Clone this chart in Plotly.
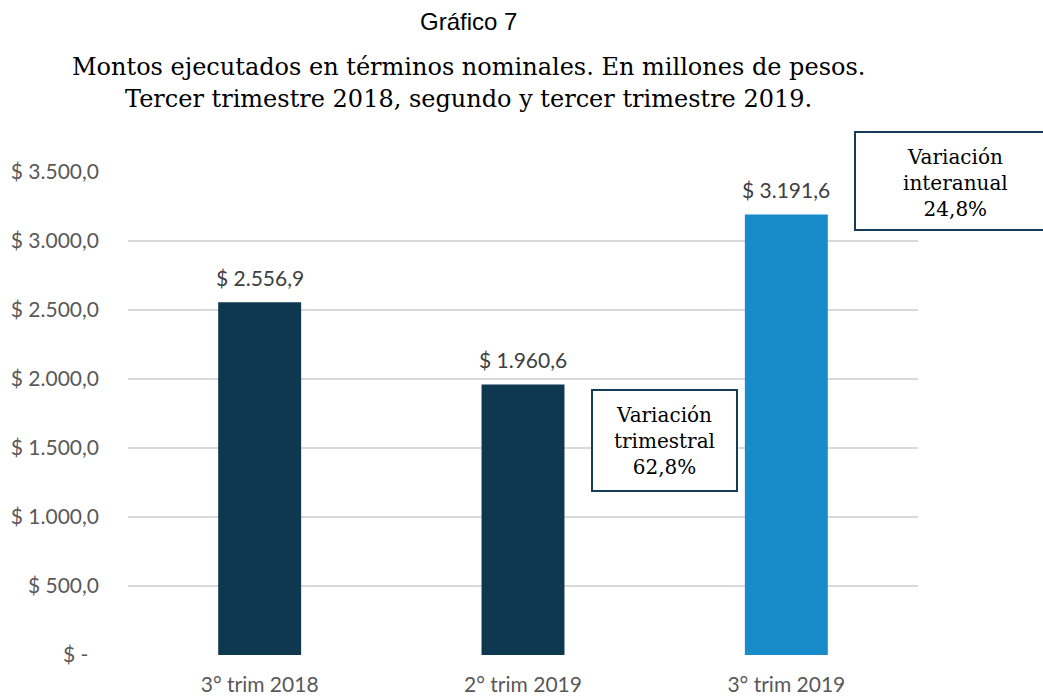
import plotly.graph_objects as go

categories = ["3° trim 2018", "2° trim 2019", "3° trim 2019"]
values = [2556.9, 1960.6, 3191.6]
bar_colors = ["#0d3850", "#0d3850", "#188bcb"]
tick_vals = [0, 500, 1000, 1500, 2000, 2500, 3000, 3500]

title_main = "Gráfico 7"
subtitle_lines = ["Montos ejecutados en términos nominales. En millones de pesos.",
                  "Tercer trimestre 2018, segundo y tercer trimestre 2019."]
box_trim = ["Variación", "trimestral", "62,8%"]
box_inter = ["Variación", "interanual", "24,8%"]


def fmt(v):
    s = f"{v:,.1f}"
    s = s.replace(",", "X").replace(".", ",").replace("X", ".")
    return "$ " + s


tick_text = [fmt(v) if v != 0 else "$ -\u00a0\u00a0" for v in tick_vals]

W, H = 1043, 696
L, R, T, B = 128, 918, 172, 655


def px(x):
    return (x - L) / (R - L)


def py(y):
    return (B - y) / (B - T)


fig = go.Figure()
fig.add_trace(go.Bar(
    x=categories, y=values, marker=dict(color=bar_colors, line=dict(width=0)),
    width=0.315, hoverinfo="skip",
))

lab_font = dict(family="Lato, sans-serif", size=21, color="#404040")
annotations = []
for c, v in zip(categories, values):
    annotations.append(dict(
        x=c, y=v, xref="x", yref="y", text=fmt(v), showarrow=False,
        yanchor="middle", yshift=25, font=lab_font,
    ))

annotations.append(dict(
    x=px(468), y=py(21), xref="paper", yref="paper", text=title_main,
    showarrow=False, xanchor="center", yanchor="middle",
    font=dict(family="Liberation Sans, Arial, sans-serif", size=24, color="#000000"),
))
for i, line in enumerate(subtitle_lines):
    annotations.append(dict(
        x=px(468), y=py(67 + 32 * i), xref="paper", yref="paper", text=line,
        showarrow=False, xanchor="center", yanchor="middle",
        font=dict(family="DejaVu Serif, serif", size=24, color="#000000"),
    ))

box_font = dict(family="DejaVu Serif, serif", size=20, color="#000000")
annotations.append(dict(
    x=px(664.5), y=py(440.5), xref="paper", yref="paper",
    text="<br>".join(box_trim), showarrow=False, xanchor="center", yanchor="middle",
    width=141, height=97, bordercolor="#163d57", borderwidth=2, bgcolor="#ffffff",
    font=box_font, align="center",
))
annotations.append(dict(
    x=px(955), y=py(183), xref="paper", yref="paper",
    text="<br>".join(box_inter), showarrow=False, xanchor="center", yanchor="middle",
    font=box_font, align="center",
))

shapes = [dict(
    type="rect", xref="paper", yref="paper",
    x0=px(855), x1=px(1100), y0=py(230), y1=py(132),
    line=dict(color="#163d57", width=2), fillcolor="#ffffff", layer="below",
)]

tick_font = dict(family="Lato, sans-serif", size=21, color="#595959")
fig.update_layout(
    width=W, height=H,
    margin=dict(l=L, r=W - R, t=T, b=H - B, pad=0, autoexpand=False),
    paper_bgcolor="#ffffff", plot_bgcolor="#ffffff",
    showlegend=False,
    annotations=annotations,
    shapes=shapes,
    xaxis=dict(
        range=[-0.5, 2.5], showgrid=False, showline=False, zeroline=False,
        ticks="", tickfont=tick_font, ticklabelstandoff=15, automargin=False,
    ),
    yaxis=dict(
        range=[0, 3500], tickvals=tick_vals, ticktext=tick_text,
        showgrid=True, gridcolor="#d9d9d9", gridwidth=1.5,
        zeroline=False, showline=False, ticks="", automargin=False,
        tickfont=tick_font, ticklabelstandoff=28,
    ),
)
fig.update_traces(cliponaxis=False)

fig.write_html(
    "out.html",
    config={"displayModeBar": False},
    post_script="document.body.style.margin='0';document.body.style.overflow='hidden';",
)
